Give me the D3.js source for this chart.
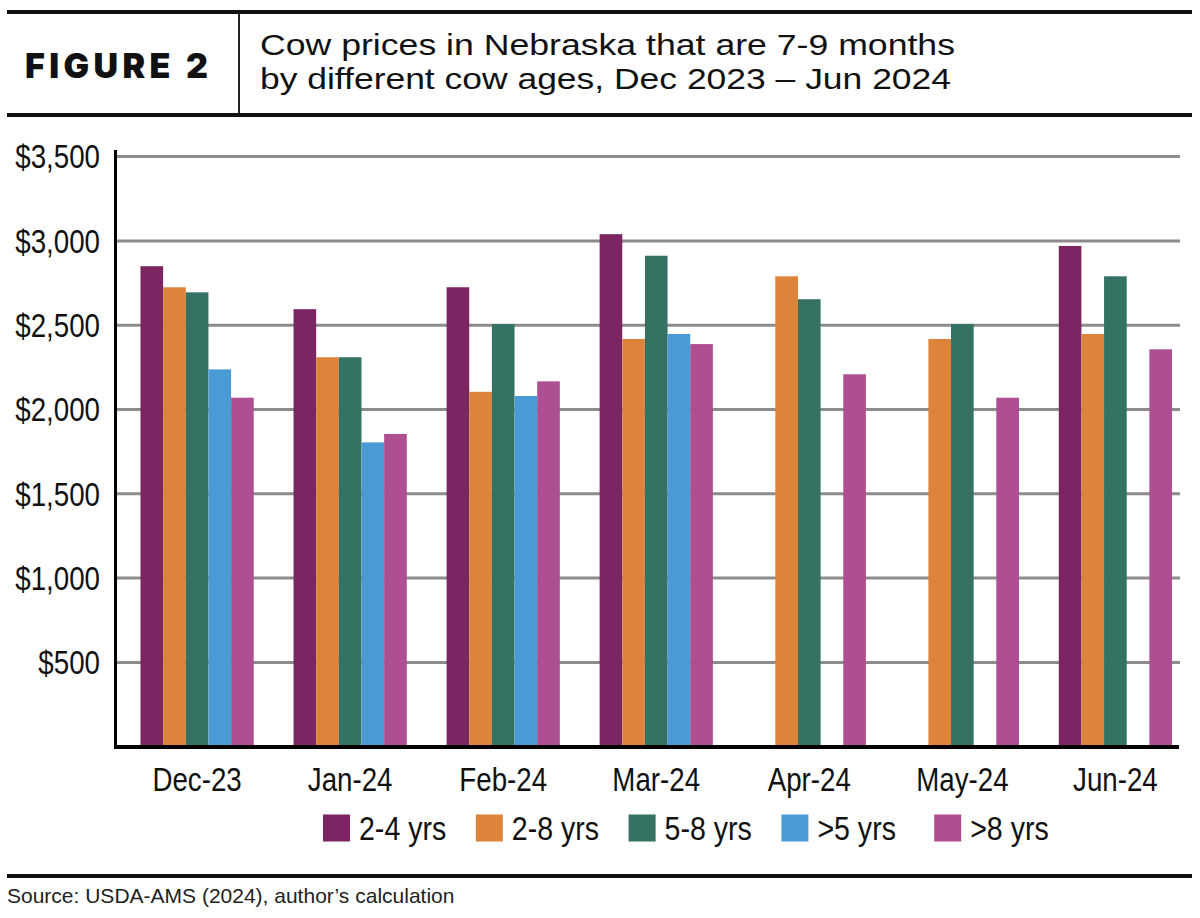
<!DOCTYPE html>
<html><head><meta charset="utf-8">
<script src="https://cdn.jsdelivr.net/npm/d3@7"></script>
<style>body{margin:0;background:#fff}</style>
</head><body>
<svg id="c" width="1200" height="918" xmlns="http://www.w3.org/2000/svg"></svg>
<script>
// ---- data ----
const months = ["Dec-23","Jan-24","Feb-24","Mar-24","Apr-24","May-24","Jun-24"];
const seriesNames = ["2-4 yrs","2-8 yrs","5-8 yrs",">5 yrs",">8 yrs"];
const seriesColors = ["#7b2563","#dc843a","#367264","#4a9bd3","#ae4f94"];
const age2to4  = [2850, 2595, 2725, 3040, null, null, 2970];
const age2to8  = [2725, 2310, 2105, 2418, 2790, 2418, 2448];
const age5to8  = [2695, 2310, 2507, 2912, 2654, 2507, 2790];
const ageOver5 = [2238, 1805, 2080, 2448, null, null, null];
const ageOver8 = [2070, 1855, 2167, 2388, 2209, 2070, 2357];
const yTicks = [500, 1000, 1500, 2000, 2500, 3000, 3500];
const figureLabel = "FIGURE 2";
const titleLines = ["Cow prices in Nebraska that are 7-9 months",
                    "by different cow ages, Dec 2023 \u2013 Jun 2024"];
const sourceText = "Source: USDA-AMS (2024), author\u2019s calculation";

const seriesValues = [age2to4, age2to8, age5to8, ageOver5, ageOver8];

// ---- drawing ----
const svg = d3.select("#c");
const baseFont = "'Liberation Sans',Arial,sans-serif";
const SQ = 0.84; // horizontal condensing factor to mimic a narrow face

// header rules
svg.append("rect").attr("x",7).attr("y",10).attr("width",1185).attr("height",4).attr("fill","#111");
svg.append("rect").attr("x",7).attr("y",113).attr("width",1185).attr("height",4).attr("fill","#111");
svg.append("rect").attr("x",238).attr("y",14).attr("width",2).attr("height",99).attr("fill","#222");
svg.append("text").text(figureLabel)
  .attr("x",25).attr("y",78)
  .attr("font-family","Inter,Roboto,sans-serif").attr("font-weight",900)
  .attr("font-size",34).attr("fill","#111")
  .attr("textLength",183).attr("lengthAdjust","spacing");
const titleLens = [695, 691];
titleLines.forEach((t,i)=>{
  svg.append("text").text(t)
    .attr("x",260).attr("y",55 + i*33.5)
    .attr("font-family",baseFont)
    .attr("font-size",30).attr("fill","#111")
    .attr("textLength",titleLens[i]).attr("lengthAdjust","spacingAndGlyphs");
});

// scales
const x0 = d3.scaleBand().domain(months).range([116,1196.5]).paddingInner(0.26).paddingOuter(0.16);
const x1 = d3.scaleBand().domain(seriesNames).range([0,x0.bandwidth()]);
const y = d3.scaleLinear().domain([0,3500]).range([746.7,156.6]);
const legendX = d3.scaleBand().domain(seriesNames).range([323,1087]);

// gridlines
svg.append("g").selectAll("line").data(yTicks).join("line")
  .attr("x1",116).attr("x2",1180)
  .attr("y1",d=>y(d)).attr("y2",d=>y(d))
  .attr("stroke","#8c8c8c").attr("stroke-width",3);

// y tick labels (condensed via horizontal scale)
svg.append("g").selectAll("g").data(yTicks).join("g")
  .attr("transform",d=>`translate(100,${y(d)}) scale(${SQ},1)`)
  .append("text")
  .attr("dy","0.36em")
  .attr("text-anchor","end")
  .attr("font-family",baseFont).attr("font-size",33).attr("fill","#111")
  .text(d=>"$"+d3.format(",")(d));

// bars
const rows = [];
months.forEach((m,i)=>{
  seriesNames.forEach((s,j)=>{
    const v = seriesValues[j][i];
    if (v != null) rows.push({m, s, v, c: seriesColors[j]});
  });
});
svg.append("g").selectAll("rect").data(rows).join("rect")
  .attr("x",d=>x0(d.m)+x1(d.s))
  .attr("width",x1.bandwidth())
  .attr("y",d=>y(d.v))
  .attr("height",d=>y(0)-y(d.v))
  .attr("fill",d=>d.c);

// axes lines
svg.append("line").attr("x1",115.5).attr("x2",115.5).attr("y1",150).attr("y2",749)
  .attr("stroke","#000").attr("stroke-width",3);
svg.append("line").attr("x1",114).attr("x2",1179).attr("y1",747).attr("y2",747)
  .attr("stroke","#000").attr("stroke-width",4);

// x labels
svg.append("g").selectAll("g").data(months).join("g")
  .attr("transform",d=>`translate(${x0(d)+x0.bandwidth()/2},791) scale(${SQ},1)`)
  .append("text")
  .attr("text-anchor","middle")
  .attr("font-family",baseFont).attr("font-size",33).attr("fill","#111")
  .text(d=>d);

// legend
const lg = svg.append("g");
seriesNames.forEach((s,j)=>{
  const lx = legendX(s);
  lg.append("rect").attr("x",lx).attr("y",814.5).attr("width",27).attr("height",27)
    .attr("fill",seriesColors[j]);
  lg.append("g").attr("transform",`translate(${lx+36},840) scale(${SQ},1)`)
    .append("text")
    .attr("font-family",baseFont).attr("font-size",34).attr("fill","#111").text(s);
});

// bottom rule + source
svg.append("rect").attr("x",7).attr("y",874).attr("width",1185).attr("height",4).attr("fill","#111");
svg.append("text").text(sourceText)
  .attr("x",7).attr("y",903)
  .attr("font-family",baseFont)
  .attr("font-size",21).attr("fill","#222");
</script>
</body></html>
